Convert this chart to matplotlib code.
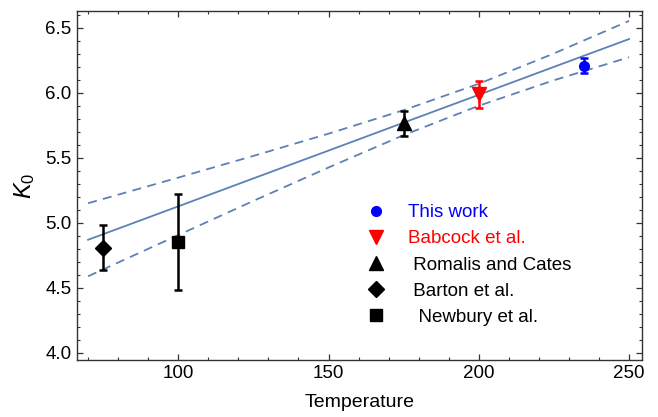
import numpy as np
import matplotlib
matplotlib.use("Agg")
import matplotlib.pyplot as plt
from matplotlib.lines import Line2D
from matplotlib.ticker import MultipleLocator

plt.rcParams['font.family'] = ['Liberation Sans', 'DejaVu Sans']
plt.rcParams['mathtext.fontset'] = 'custom'
plt.rcParams['mathtext.rm'] = 'Liberation Sans'
plt.rcParams['mathtext.it'] = 'Liberation Sans:italic'

# measurements: temperature, K0, error
labels = ['This work', 'Babcock et al.', ' Romalis and Cates', ' Barton et al.', '  Newbury et al.']
temps = [235, 200, 175, 75, 100]
k0 = [6.21, 5.99, 5.765, 4.81, 4.85]
k0_err = [0.06, 0.105, 0.095, 0.175, 0.37]
colors = ['#0000ff', '#ff0000', 'black', 'black', 'black']
markers = ['o', 'v', '^', 'D', 's']
msizes = [7, 10.5, 9.5, 8, 9]

# linear fit and confidence band
fit_t = [70, 100, 125, 150, 175, 200, 225, 250]
fit_mid = [4.870, 5.127, 5.342, 5.556, 5.771, 5.985, 6.200, 6.414]
fit_hi = [5.151, 5.348, 5.515, 5.686, 5.867, 6.070, 6.303, 6.554]
fit_lo = [4.589, 4.906, 5.169, 5.426, 5.675, 5.901, 6.097, 6.274]

line_col = '#5e81b5'

fig = plt.figure(figsize=(6.58, 4.17), dpi=100)
ax = fig.add_axes([0.117, 0.137, 0.8587, 0.8367])

ax.plot(fit_t, fit_mid, color=line_col, lw=1.3)
ax.plot(fit_t, fit_hi, color=line_col, lw=1.3, ls=(0, (5, 3.5)))
ax.plot(fit_t, fit_lo, color=line_col, lw=1.3, ls=(0, (5, 3.5)))

for t, k, e, c, m, s in zip(temps, k0, k0_err, colors, markers, msizes):
    ax.errorbar(t, k, yerr=e, fmt=m, color=c, ms=s, ecolor=c,
                elinewidth=1.8, capsize=3, capthick=1.8, zorder=3)

ax.set_xlim(66.3, 254.3)
ax.set_ylim(3.946, 6.63)
ax.xaxis.set_major_locator(MultipleLocator(50))
ax.xaxis.set_minor_locator(MultipleLocator(10))
ax.yaxis.set_major_locator(MultipleLocator(0.5))
ax.yaxis.set_minor_locator(MultipleLocator(0.1))
ax.yaxis.set_major_formatter(matplotlib.ticker.FormatStrFormatter('%.1f'))
ax.tick_params(which='both', direction='in', top=True, right=True,
               labelsize=13.5, color='#333333')
ax.tick_params(which='major', length=4.5, width=0.9, pad=4)
ax.tick_params(which='minor', length=2.5, width=0.8)
for sp in ax.spines.values():
    sp.set_color('#333333')
    sp.set_linewidth(1.0)

ax.set_xlabel('Temperature', fontsize=14, labelpad=8)
ax.set_ylabel('$K_0$', fontsize=17, labelpad=6)

handles = [Line2D([], [], ls='none', marker=m, color=c, ms=s)
           for m, c, s in zip(markers, colors, msizes)]
ax.legend(handles, labels, loc='lower left', bbox_to_anchor=(0.5, 0.076),
          frameon=False, fontsize=13.5, handlelength=1.0, handletextpad=1.2,
          labelspacing=0.48, labelcolor=colors, borderaxespad=0)

fig.savefig('out.png', dpi=100)
